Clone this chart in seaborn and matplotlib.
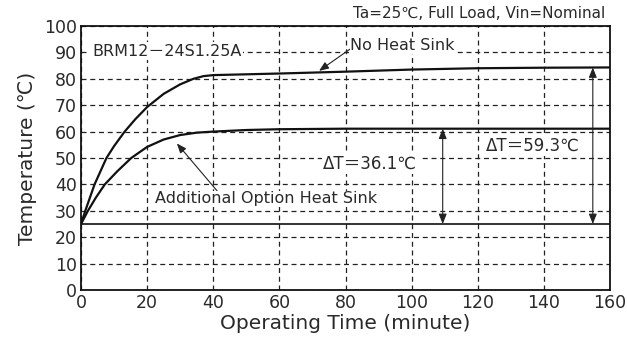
import matplotlib
matplotlib.use("Agg")
import matplotlib.pyplot as plt
import seaborn as sns
import pandas as pd

# Data
t_nohs = [0, 1.3, 4.1, 7.7, 10, 13.2, 16.5, 20, 25, 30, 34, 37, 40, 50, 60, 80, 100, 120, 140, 160]
T_nohs = [25, 30, 40, 50, 54.5, 60, 64.8, 69.3, 74.3, 77.9, 80, 81, 81.4, 81.7, 82.0, 82.7, 83.5, 84.0, 84.2, 84.3]
t_opt = [0, 2.1, 4.5, 7.2, 11, 15.2, 20, 25, 30, 35, 40, 50, 60, 80, 100, 120, 140, 160]
T_opt = [25, 30, 35, 40, 45, 50, 54.2, 57.0, 58.7, 59.6, 60, 60.6, 60.9, 61.1, 61.1, 61.1, 61.1, 61.1]
ambient = 25
x_ticks = [0, 20, 40, 60, 80, 100, 120, 140, 160]
y_ticks = [0, 10, 20, 30, 40, 50, 60, 70, 80, 90, 100]

df = pd.concat([
    pd.DataFrame({"t": t_nohs, "T": T_nohs, "s": "No Heat Sink"}),
    pd.DataFrame({"t": t_opt, "T": T_opt, "s": "Additional Option Heat Sink"}),
])

sns.set_theme(style="white")
plt.rcParams["font.family"] = ["DejaVu Sans", "Noto Sans CJK JP"]

fig = plt.figure(figsize=(6.27, 3.39), dpi=100)
ax = fig.add_axes([81/627, 1-290/339, (610-81)/627, (290-26)/339])

sns.lineplot(data=df, x="t", y="T", hue="s", palette=["#111111", "#111111"],
             estimator=None, sort=False, linewidth=1.6, legend=False, ax=ax)
ax.axhline(ambient, color="#111111", linewidth=1.2)

ax.set_xlim(0, 160)
ax.set_ylim(0, 100)
ax.set_xticks(x_ticks)
ax.set_yticks(y_ticks)
ax.grid(True, color="#222222", linestyle=(0, (4, 3)), linewidth=0.9)
for sp in ax.spines.values():
    sp.set_color("#111111")
    sp.set_linewidth(1.3)
ax.tick_params(length=0, labelsize=12.5, colors="#2a2a2a", pad=3)
ax.set_xlabel("Operating Time (minute)", fontsize=14.5, color="#2a2a2a", labelpad=1)
ax.set_ylabel("Temperature (℃)", fontsize=14.5, color="#2a2a2a", labelpad=5)

fig.text(605/627, 1-14/339, "Ta=25℃, Full Load, Vin=Nominal", ha="right", va="center",
         fontsize=11, color="#2a2a2a")

ax.text(3.3, 90.5, "BRM12－24S1.25A", fontsize=11.5, color="#2a2a2a", va="center",
        bbox=dict(facecolor="white", edgecolor="none", pad=1))

ax.annotate("No Heat Sink", xy=(72, 83.0), xytext=(81.5, 92.5), fontsize=11.5, color="#2a2a2a",
            va="center", ha="left",
            bbox=dict(facecolor="white", edgecolor="none", pad=0.5),
            arrowprops=dict(arrowstyle="-|>,head_length=0.5,head_width=0.2", color="#222222",
                        lw=0.8, shrinkA=0, shrinkB=0, relpos=(0, 0.3)))
ax.annotate("Additional Option Heat Sink", xy=(29, 55.5), xytext=(22.5, 34.5), fontsize=11.5,
            color="#2a2a2a", va="center", ha="left",
            bbox=dict(facecolor="white", edgecolor="none", pad=0.5),
            arrowprops=dict(arrowstyle="-|>,head_length=0.5,head_width=0.2", color="#222222",
                        lw=0.8, shrinkA=0, shrinkB=0, relpos=(0.28, 1.0)))

ax.annotate("", xy=(109.4, 61.1), xytext=(109.4, 25),
            arrowprops=dict(arrowstyle="<|-|>,head_length=0.5,head_width=0.2", color="#222222",
                            lw=0.8, shrinkA=0, shrinkB=0))
ax.annotate("", xy=(154.8, 84.3), xytext=(154.8, 25),
            arrowprops=dict(arrowstyle="<|-|>,head_length=0.5,head_width=0.2", color="#222222",
                            lw=0.8, shrinkA=0, shrinkB=0))
ax.text(87.5, 48, "ΔT＝36.1℃", fontsize=12, color="#2a2a2a", ha="center", va="center",
        bbox=dict(facecolor="white", edgecolor="none", pad=1))
ax.text(136.5, 54.7, "ΔT＝59.3℃", fontsize=12, color="#2a2a2a", ha="center", va="center",
        bbox=dict(facecolor="white", edgecolor="none", pad=1))

fig.savefig("out.png", dpi=100)
